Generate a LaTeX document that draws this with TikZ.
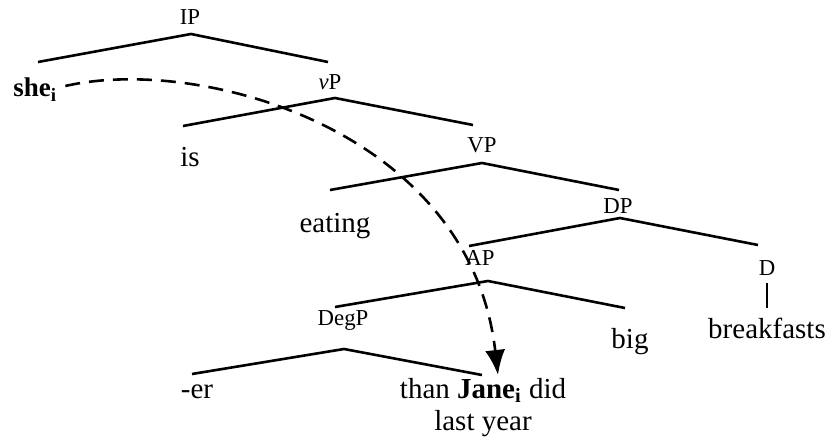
\documentclass[tikz,border=0pt]{standalone}
\usepackage{fontspec}
\setmainfont{Liberation Serif}
\usetikzlibrary{arrows.meta}

\begin{document}
\begin{tikzpicture}[x=0.5pt,y=-0.5pt,
    cat/.style={inner sep=0pt,font=\fontsize{11.4}{13}\selectfont},
    word/.style={inner sep=0pt,anchor=base,font=\fontsize{14.5}{16}\selectfont},
    branch/.style={line width=1.3pt},
    move/.style={line width=1.3pt,dash pattern=on 7.5pt off 4.5pt,
      -{Latex[length=12.5pt,width=10pt]}}]
  \useasboundingbox (0,0) rectangle (831,444);
  % labels and words
  \node[cat](IP) at (190,17) {IP};
  \node[word,anchor=base west,font=\fontsize{13.5}{15}\selectfont\bfseries](she) at (13,97) {she\textsubscript{i}};
  \node[cat](vP) at (330,82) {\textit{v}P};
  \node[word](is) at (190,167) {is};
  \node[cat](VP) at (482,145) {VP};
  \node[word](eating) at (335,233) {eating};
  \node[cat](DP) at (618,206) {DP};
  \node[cat](AP) at (480,258) {AP};
  \node[cat](D) at (767,268) {D};
  \node[word](breakfasts) at (767,338) {breakfasts};
  \node[cat](DegP) at (343,320) {DegP};
  \node[word](big) at (630,348) {big};
  \node[word](er) at (197,398) {-er};
  \node[word,anchor=north,align=center](than) at (483,378) {than \textbf{Jane\textsubscript{i}} did\\last year};
  % branches
  \coordinate (IP-top) at (191,34);   \coordinate (IP-l) at (38,62);   \coordinate (IP-r) at (328,62);
  \coordinate (vP-top) at (335,98);   \coordinate (vP-l) at (183,126); \coordinate (vP-r) at (473,125);
  \coordinate (VP-top) at (482,163);  \coordinate (VP-l) at (330,190); \coordinate (VP-r) at (619,190);
  \coordinate (DP-top) at (620,218);  \coordinate (DP-l) at (469,246); \coordinate (DP-r) at (758,245);
  \coordinate (AP-top) at (488,281);  \coordinate (AP-l) at (335,307); \coordinate (AP-r) at (625,308);
  \coordinate (DegP-top) at (344,349); \coordinate (DegP-l) at (192,374); \coordinate (DegP-r) at (482,375);
  \draw[branch] (IP-l) -- (IP-top) -- (IP-r);
  \draw[branch] (vP-l) -- (vP-top) -- (vP-r);
  \draw[branch] (VP-l) -- (VP-top) -- (VP-r);
  \draw[branch] (DP-l) -- (DP-top) -- (DP-r);
  \draw[branch] (AP-l) -- (AP-top) -- (AP-r);
  \draw[branch] (DegP-l) -- (DegP-top) -- (DegP-r);
  \draw[line width=0.6pt,shorten <=3.5pt,shorten >=4.5pt] (D) -- (breakfasts.north);
  % movement
  \coordinate (gap) at (498,375);
  \draw[move,shorten <=4pt] ([yshift=1pt]she.east) .. controls (200,55) and (470,130) .. (gap);
\end{tikzpicture}
\end{document}
